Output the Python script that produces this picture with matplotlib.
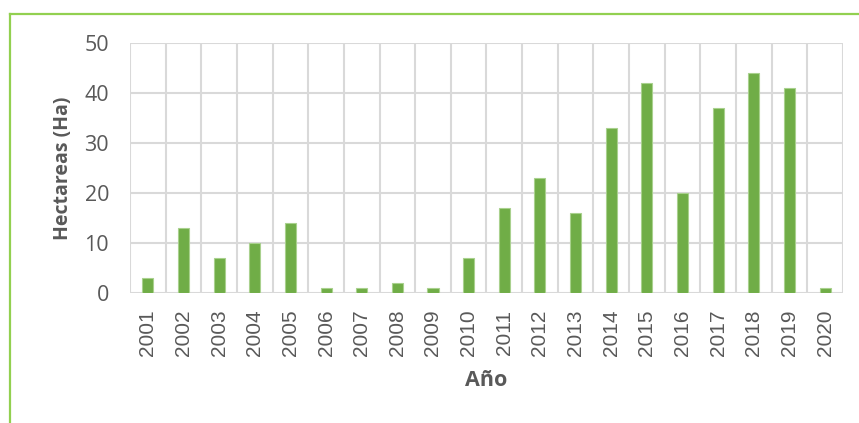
import numpy as np
import matplotlib
matplotlib.use("Agg")
import matplotlib.pyplot as plt
from matplotlib.lines import Line2D

years = [str(y) for y in range(2001, 2021)]
hectareas = [3, 13, 7, 10, 14, 1, 1, 2, 1, 7, 17, 23, 16, 33, 42, 20, 37, 44, 41, 1]
y_ticks = [0, 10, 20, 30, 40, 50]

BAR = "#70AD47"
GRID = "#D9D9D9"
TEXT = "#595959"

fig = plt.figure(figsize=(8.59, 4.23), dpi=100)
ax = fig.add_axes([0.1513, 0.3073, 0.830, 0.591])

x = np.arange(len(years))
ax.bar(x, hectareas, width=0.31, color=BAR, edgecolor="#A9D18E", linewidth=0.8, zorder=3)

ax.set_xlim(-0.5, len(years) - 0.5)
ax.set_ylim(0, 50)
ax.set_yticks(y_ticks)
ax.set_yticklabels([str(v) for v in y_ticks], fontsize=15.5, color=TEXT, family="Open Sans")
ax.set_xticks(x)
ax.set_xticklabels(years, rotation=90, fontsize=15, color=TEXT, family="Liberation Sans")

# grid lines: horizontal at ticks, vertical at category boundaries
for v in y_ticks:
    ax.axhline(v, color=GRID, lw=1.5, zorder=1)
for b in np.arange(-0.5, len(years), 1.0):
    ax.axvline(b, color=GRID, lw=1.5, zorder=1)

for s in ax.spines.values():
    s.set_visible(False)
ax.tick_params(axis="both", length=0)
ax.tick_params(axis="y", pad=15)
ax.tick_params(axis="x", pad=12)

ax.set_ylabel("Hectareas (Ha)", fontsize=14, fontweight="bold", color=TEXT,
              family="Open Sans", labelpad=8)
ax.set_xlabel("Año", fontsize=15.5, fontweight="bold", color=TEXT,
              family="Open Sans", labelpad=10)

# green frame of the chart area (top and left edges)
fig.add_artist(Line2D([10 / 859, 1.0], [1 - 14 / 423, 1 - 14 / 423],
                      transform=fig.transFigure, color="#92D050", lw=1.6))
fig.add_artist(Line2D([10 / 859, 10 / 859], [0, 1 - 14 / 423],
                      transform=fig.transFigure, color="#92D050", lw=1.6))

fig.savefig("out.png", dpi=100)
